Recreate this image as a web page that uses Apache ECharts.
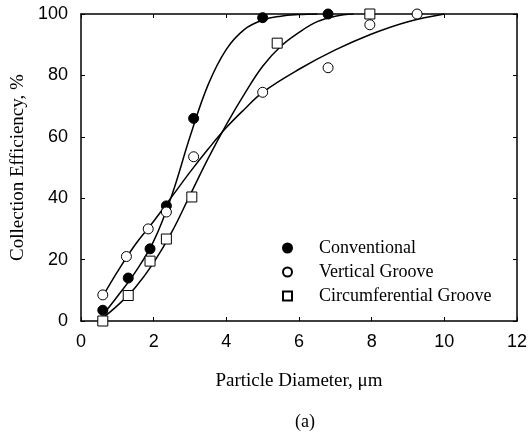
<!DOCTYPE html>
<html>
<head>
<meta charset="utf-8">
<script src="https://cdn.jsdelivr.net/npm/echarts@6/dist/echarts.min.js"></script>
<style>
  html, body { margin: 0; padding: 0; background: #fff; }
  #chart { width: 531px; height: 435px; }
</style>
</head>
<body>
<div id="chart"></div>
<script>
// measured points
const conventionalX = [0.6, 1.3, 1.9, 2.35, 3.1, 5.0, 6.8];
const conventionalY = [3.5, 14, 23.5, 37.5, 66, 98.8, 100];
const verticalX = [0.6, 1.25, 1.85, 2.35, 3.1, 5.0, 6.8, 7.95, 9.25];
const verticalY = [8.5, 21, 30, 35.5, 53.5, 74.5, 82.5, 96.5, 100];
const circumX = [0.6, 1.3, 1.9, 2.35, 3.05, 5.4, 7.95];
const circumY = [0, 8.3, 19.5, 26.7, 40.4, 90.5, 100];

// fitted curves
const convCurveX = [0.6, 1.0, 1.5, 2.0, 2.5, 3.0, 3.5, 4.0, 4.5, 5.0, 5.5, 6.0, 6.5];
const convCurveY = [2, 8, 16, 26, 41, 60, 77, 88.5, 95, 98, 99.3, 99.8, 100];
const vertCurveX = [0.6, 1.0, 1.5, 2.0, 2.5, 3.0, 3.5, 4.0, 4.5, 5.0, 6.0, 7.0, 8.0, 9.0, 10.0];
const vertCurveY = [8, 16, 25, 32.5, 40.5, 48.5, 56, 63, 69, 74.5, 82, 88.3, 93.5, 97.5, 100];
const circCurveX = [0.6, 1.0, 1.5, 2.0, 2.5, 3.0, 3.5, 4.0, 4.5, 5.0, 5.5, 6.0, 6.5, 7.0, 7.5];
const circCurveY = [1, 5, 11, 19, 29, 41, 53, 64, 74, 83, 89.5, 94, 97.5, 99.3, 100];

const xTicks = [0, 2, 4, 6, 8, 10, 12];
const yTicks = [0, 20, 40, 60, 80, 100];

const zip = (xs, ys) => xs.map((x, i) => [x, ys[i]]);

const serif = "'Liberation Serif', 'Times New Roman', serif";
const sans = "'Liberation Sans', Arial, sans-serif";

const chart = echarts.init(document.getElementById("chart"), null, { renderer: "canvas" });

const axisLine = { show: true, onZero: false, lineStyle: { color: "#000", width: 1.5 } };
const tickIn = { show: true, inside: true, length: 4, lineStyle: { color: "#000", width: 1 } };

const curve = (data) => ({
  type: "line",
  data: data,
  smooth: 0.4,
  symbol: "none",
  silent: true,
  lineStyle: { color: "#000", width: 1.5 },
  z: 2,
});

const option = {
  backgroundColor: "#fff",
  animation: false,
  title: {
    text: "(a)",
    left: 300,
    top: 408,
    textAlign: "center",
    textStyle: { fontFamily: serif, fontSize: 18, fontWeight: "normal", color: "#000" },
  },
  grid: { left: 81, right: 14, top: 14, bottom: 114 },
  legend: {
    orient: "vertical",
    left: 277,
    top: 234,
    itemWidth: 9,
    itemHeight: 9,
    itemGap: 6,
    data: ["Conventional", "Vertical Groove", "Circumferential Groove"],
    textStyle: { fontFamily: serif, fontSize: 18, color: "#000", padding: [0, 0, 0, 22] },
  },
  xAxis: [
    {
      type: "value",
      min: xTicks[0],
      max: xTicks[xTicks.length - 1],
      interval: 2,
      name: "Particle Diameter, \u03bcm",
      nameLocation: "middle",
      nameGap: 51,
      nameTextStyle: { fontFamily: serif, fontSize: 19, color: "#000" },
      axisLine: axisLine,
      axisTick: tickIn,
      axisLabel: { fontFamily: sans, fontSize: 18, color: "#000", margin: 12 },
      splitLine: { show: false },
    },
    {
      type: "value",
      position: "top",
      min: xTicks[0],
      max: xTicks[xTicks.length - 1],
      interval: 2,
      axisLine: axisLine,
      axisTick: tickIn,
      axisLabel: { show: false },
      splitLine: { show: false },
    },
  ],
  yAxis: [
    {
      type: "value",
      min: yTicks[0],
      max: yTicks[yTicks.length - 1],
      interval: 20,
      name: "Collection Efficiency, %",
      nameLocation: "middle",
      nameGap: 45,
      nameTextStyle: { fontFamily: serif, fontSize: 19, color: "#000" },
      axisLine: axisLine,
      axisTick: tickIn,
      axisLabel: { fontFamily: sans, fontSize: 18, color: "#000", margin: 13 },
      splitLine: { show: false },
    },
    {
      type: "value",
      position: "right",
      min: yTicks[0],
      max: yTicks[yTicks.length - 1],
      interval: 20,
      axisLine: axisLine,
      axisTick: tickIn,
      axisLabel: { show: false },
      splitLine: { show: false },
    },
  ],
  series: [
    curve(zip(convCurveX, convCurveY)),
    curve(zip(vertCurveX, vertCurveY)),
    curve(zip(circCurveX, circCurveY)),
    {
      name: "Conventional",
      type: "scatter",
      data: zip(conventionalX, conventionalY),
      symbol: "circle",
      symbolSize: 10,
      clip: false,
      itemStyle: { color: "#000", borderColor: "#000", borderWidth: 1, opacity: 1 },
      z: 5,
    },
    {
      name: "Vertical Groove",
      type: "scatter",
      data: zip(verticalX, verticalY),
      symbol: "circle",
      symbolSize: 10,
      clip: false,
      itemStyle: { color: "#fff", borderColor: "#000", borderWidth: 1, opacity: 1 },
      z: 5,
    },
    {
      name: "Circumferential Groove",
      type: "scatter",
      data: zip(circumX, circumY),
      symbol: "rect",
      symbolSize: 10,
      clip: false,
      itemStyle: { color: "#fff", borderColor: "#000", borderWidth: 1, opacity: 1 },
      z: 5,
    },
  ],
};

chart.setOption(option);
</script>
</body>
</html>
